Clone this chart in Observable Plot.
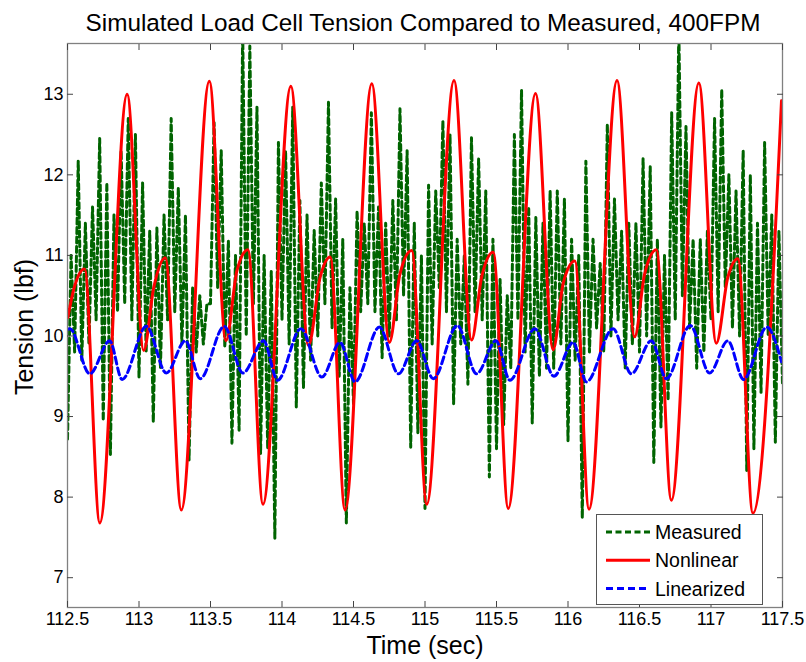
<!DOCTYPE html>
<html><head><meta charset="utf-8">
<script src="https://cdn.jsdelivr.net/npm/d3@7"></script>
<script src="https://cdn.jsdelivr.net/npm/@observablehq/plot@0.6"></script>
<style>
html,body{margin:0;padding:0;background:#fff;}
#chart{width:806px;height:662px;}
</style></head><body><div id="chart"></div>
<script>
const titleText = "Simulated Load Cell Tension Compared to Measured, 400FPM";
const xLabel = "Time (sec)";
const yLabel = "Tension (lbf)";
const xTicks = [112.5, 113, 113.5, 114, 114.5, 115, 115.5, 116, 116.5, 117, 117.5];
const yTicks = [7, 8, 9, 10, 11, 12, 13];
const seriesNames = ["Measured", "Nonlinear", "Linearized"];
const seriesColors = ["#006400", "#ff0000", "#0000ff"];

// Measured: sampled every 0.025 s starting at 112.5 s
const measuredStart = 112.5;
const measuredStep = 0.025;
const measuredV = [
  8.72, 11.0, 9.8, 12.17,
  9.7, 11.4, 9.9, 11.6,
  10.2, 12.45, 8.95, 11.9,
  8.53, 11.5, 10.3, 12.3,
  10.4, 12.7, 10.2, 12.5,
  9.49, 11.9, 9.8, 11.3,
  8.93, 11.34, 9.6, 11.5,
  10.2, 12.7, 10.3, 11.84,
  9.9, 11.5, 8.46, 10.6,
  9.8, 10.5, 9.9, 10.4,
  10.4, 12.65, 10.6, 12.3,
  9.86, 11.18, 8.67, 11.0,
  8.83, 13.8, 10.0, 13.6,
  10.4, 12.84, 8.54, 11.0,
  8.6, 10.8, 7.49, 12.4,
  10.2, 12.3, 9.9, 12.84,
  9.12, 11.68, 9.36, 11.5,
  9.7, 11.31, 10.0, 11.9,
  10.4, 12.9, 10.1, 11.7,
  9.5, 11.2, 7.68, 10.6,
  9.16, 11.55, 10.3, 11.4,
  10.4, 12.77, 10.3, 11.6,
  9.73, 11.4, 10.0, 11.68,
  10.2, 12.82, 10.5, 12.3,
  8.62, 11.4, 8.8, 11.0,
  7.86, 11.87, 9.9, 11.8,
  10.6, 12.67, 10.3, 12.5,
  9.16, 11.2, 9.9, 11.0,
  9.4, 12.46, 10.3, 12.2,
  10.2, 11.8, 8.25, 11.2,
  8.6, 10.7, 8.9, 10.5,
  9.6, 12.5, 10.2, 13.05,
  9.8, 11.6, 8.92, 11.47,
  9.5, 11.4, 9.6, 11.8,
  9.6, 11.8, 9.9, 11.7,
  8.7, 11.2, 9.7, 11.0,
  7.74, 12.17, 9.8, 11.2,
  10.1, 10.9, 9.8, 12.63,
  10.0, 11.7, 10.2, 11.3,
  9.6, 11.4, 9.9, 11.4,
  9.8, 12.2, 10.0, 12.1,
  8.43, 11.2, 8.87, 11.0,
  9.2, 12.77, 10.2, 13.8,
  10.5, 12.6, 10.1, 11.2,
  9.6, 11.2, 9.8, 11.3,
  10.2, 12.7, 10.3, 13.06,
  10.6, 12.0, 10.1, 11.8,
  10.0, 12.3, 8.33, 12.0,
  8.6, 11.4, 9.3, 12.4,
  10.0, 11.5, 8.68, 11.3,
  9.4
];

// Nonlinear simulation (turning points)
const nonlinearT = [112.502, 112.544, 112.619, 112.726, 112.917, 113.033, 113.103, 113.184, 113.296,
  113.492, 113.608, 113.685, 113.762, 113.867, 114.062, 114.185, 114.267, 114.337, 114.441,
  114.628, 114.751, 114.825, 114.907, 115.012, 115.203, 115.326, 115.396, 115.477, 115.582,
  115.773, 115.896, 115.966, 116.048, 116.147, 116.343, 116.466, 116.536, 116.618, 116.723,
  116.915, 117.037, 117.118, 117.188, 117.293, 117.493];
const nonlinearV = [10.23, 10.58, 10.83, 7.68, 13.0, 9.82, 10.6, 10.97, 7.84,
  13.16, 9.94, 10.81, 11.07, 7.91, 13.10, 9.88, 10.73, 10.98, 7.84,
  13.13, 9.92, 10.77, 11.06, 7.91, 13.17, 9.95, 10.73, 11.04, 7.86,
  13.01, 9.83, 10.65, 10.93, 7.85, 13.17, 9.99, 10.77, 11.07, 7.96,
  13.14, 9.91, 10.73, 10.96, 7.80, 12.92];

// Linearized simulation (turning points)
const linearT = [112.5, 112.516, 112.656, 112.795, 112.882, 113.052, 113.191, 113.324, 113.429,
  113.596, 113.727, 113.871, 113.969, 114.132, 114.279, 114.406, 114.511, 114.681, 114.814,
  114.942, 115.058, 115.226, 115.361, 115.496, 115.594, 115.768, 115.901, 116.036, 116.129,
  116.315, 116.443, 116.583, 116.688, 116.855, 116.990, 117.118, 117.228, 117.390, 117.493];
const linearV = [10.08, 10.09, 9.53, 9.94, 9.46, 10.12, 9.54, 9.94, 9.47,
  10.12, 9.54, 9.94, 9.45, 10.09, 9.49, 9.92, 9.43, 10.11, 9.53,
  9.94, 9.47, 10.13, 9.53, 9.94, 9.45, 10.09, 9.50, 9.92, 9.43,
  10.09, 9.53, 9.94, 9.47, 10.13, 9.54, 9.94, 9.46, 10.11, 9.68];

const measured = measuredV.map((v, i) => ({t: measuredStart + i * measuredStep, v}));
const nonlinear = nonlinearT.map((t, i) => ({t, v: nonlinearV[i]}));
const linear = linearT.map((t, i) => ({t, v: linearV[i]}));

const font = "'Liberation Sans', Arial, Helvetica, sans-serif";
const frameGray = "#808080";

const plot = Plot.plot({
  width: 806,
  height: 662,
  marginLeft: 67,
  marginRight: 24,
  marginTop: 43,
  marginBottom: 55,
  x: {domain: [112.5, 117.5]},
  y: {domain: [6.63, 13.63]},
  style: {fontFamily: font, background: "#fff", color: "#000", overflow: "visible"},
  marks: [
    Plot.line(measured, {x: "t", y: "v", stroke: seriesColors[0], strokeWidth: 3, strokeDasharray: "6,3.5", clip: true}),
    Plot.line(nonlinear, {x: "t", y: "v", stroke: seriesColors[1], strokeWidth: 3, curve: "monotone-x", clip: true}),
    Plot.line(linear, {x: "t", y: "v", stroke: seriesColors[2], strokeWidth: 3, strokeDasharray: "7,4", curve: "monotone-x", clip: true}),
    Plot.frame({stroke: frameGray, strokeWidth: 1.3}),
    Plot.axisX(xTicks, {anchor: "bottom", tickSize: 0, tickPadding: 5, fontSize: 18, label: null, tickFormat: d => String(d)}),
    Plot.axisX(xTicks, {anchor: "bottom", tickSize: -6, text: null, label: null, stroke: "#444"}),
    Plot.axisX(xTicks, {anchor: "top", tickSize: -6, text: null, label: null, stroke: "#444"}),
    Plot.axisY(yTicks, {anchor: "left", tickSize: 0, tickPadding: 4, fontSize: 18, label: null, tickFormat: d => String(d)}),
    Plot.axisY(yTicks, {anchor: "left", tickSize: -6, text: null, label: null, stroke: "#444"}),
    Plot.axisY(yTicks, {anchor: "right", tickSize: -6, text: null, label: null, stroke: "#444"})
  ]
});

const svg = d3.select(plot);
function addText(str, size) {
  return svg.append("text").text(str)
    .style("font-size", size + "px").style("font-family", font)
    .style("text-anchor", "middle").attr("fill", "#000");
}
addText(titleText, 24.3).attr("x", 423).attr("y", 31);
addText(xLabel, 25).attr("x", 425).attr("y", 654);
addText(yLabel, 25).attr("transform", "translate(33,327) rotate(-90)");

// legend
const lg = svg.append("g");
lg.append("rect").attr("x", 596.5).attr("y", 514.5).attr("width", 166).attr("height", 90)
  .attr("fill", "#fff").attr("stroke", "#555").attr("stroke-width", 1);
const dashes = ["6,3.5", null, "7,4"];
seriesNames.forEach((name, i) => {
  const cy = 532 + i * 28.3;
  const ln = lg.append("line").attr("x1", 606).attr("x2", 650).attr("y1", cy).attr("y2", cy)
    .attr("stroke", seriesColors[i]).attr("stroke-width", 3);
  if (dashes[i]) ln.attr("stroke-dasharray", dashes[i]);
  lg.append("text").text(name).attr("x", 655).attr("y", cy + 7).attr("fill", "#000")
    .style("font-size", "19.5px").style("font-family", font).style("text-anchor", "start");
});

document.getElementById("chart").appendChild(plot);
</script>
</body></html>
